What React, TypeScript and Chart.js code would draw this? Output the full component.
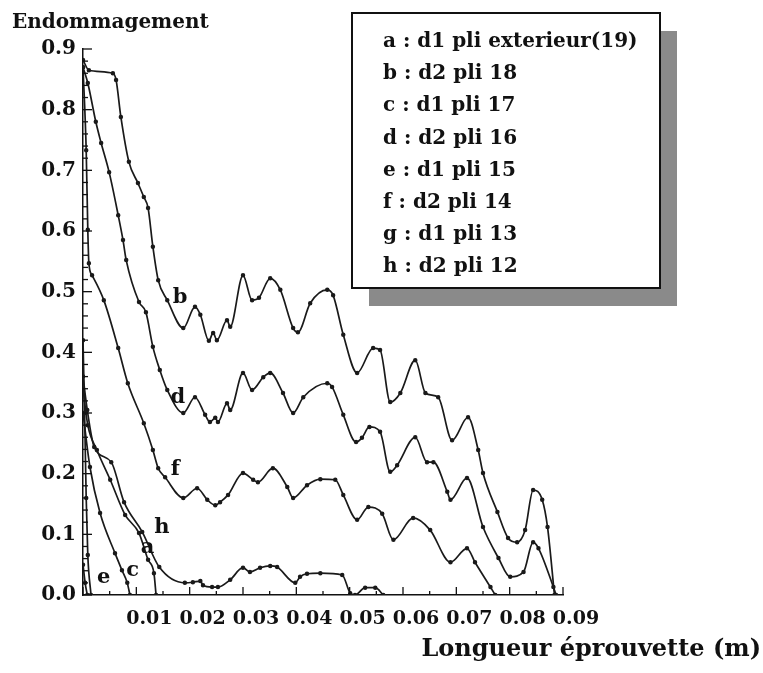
import React, { useEffect, useRef } from "react";
import { Chart, registerables } from "chart.js";

Chart.register(...registerables);

// ---- Data (x in metres, y = damage) ----
const curveA: [number, number][] = [
  [0, 0.34], [0.0009, 0.28], [0.0026, 0.239], [0.0051, 0.19], [0.0079, 0.132],
  [0.0105, 0.102], [0.0122, 0.058], [0.0133, 0.036], [0.0137, 0],
];
const curveB: [number, number][] = [
  [0, 0.882], [0.0011, 0.865], [0.0056, 0.86], [0.0062, 0.849], [0.0071, 0.788],
  [0.0086, 0.714], [0.0103, 0.679], [0.0114, 0.656], [0.0122, 0.638], [0.0131, 0.574],
  [0.0141, 0.519], [0.0158, 0.486], [0.0188, 0.44], [0.021, 0.475], [0.022, 0.462],
  [0.0236, 0.419], [0.0244, 0.432], [0.0251, 0.42], [0.027, 0.453], [0.0276, 0.442],
  [0.03, 0.527], [0.0317, 0.486], [0.033, 0.49], [0.0351, 0.522], [0.037, 0.503],
  [0.0394, 0.44], [0.0403, 0.433], [0.0426, 0.481], [0.0458, 0.503], [0.0469, 0.494],
  [0.0488, 0.429], [0.0514, 0.366], [0.0544, 0.407], [0.0557, 0.404], [0.0576, 0.318],
  [0.0595, 0.333], [0.0623, 0.387], [0.0642, 0.333], [0.0666, 0.326], [0.0692, 0.255],
  [0.0722, 0.293], [0.0741, 0.239], [0.075, 0.201], [0.0777, 0.137], [0.0797, 0.094],
  [0.0814, 0.087], [0.0829, 0.107], [0.0844, 0.173], [0.0861, 0.157], [0.0871, 0.112],
  [0.0884, 0],
];
const curveC: [number, number][] = [
  [0, 0.3], [0.0013, 0.211], [0.0032, 0.135], [0.006, 0.069], [0.0073, 0.041],
  [0.0083, 0.02], [0.0088, 0],
];
const curveD: [number, number][] = [
  [0, 0.87], [0.0009, 0.844], [0.0024, 0.78], [0.0034, 0.745], [0.0049, 0.697],
  [0.0066, 0.626], [0.0075, 0.585], [0.0081, 0.552], [0.0105, 0.483], [0.0118, 0.466],
  [0.0131, 0.409], [0.0144, 0.371], [0.0158, 0.338], [0.0188, 0.3], [0.021, 0.326],
  [0.0229, 0.297], [0.0238, 0.285], [0.0248, 0.292], [0.0253, 0.285], [0.027, 0.316],
  [0.0276, 0.305], [0.03, 0.366], [0.0317, 0.338], [0.0338, 0.359], [0.0351, 0.366],
  [0.0375, 0.333], [0.0394, 0.3], [0.0413, 0.326], [0.0458, 0.349], [0.0467, 0.343],
  [0.0488, 0.297], [0.0512, 0.252], [0.0523, 0.259], [0.0537, 0.277], [0.0557, 0.269],
  [0.0576, 0.203], [0.0589, 0.214], [0.0623, 0.26], [0.0645, 0.219], [0.0657, 0.219],
  [0.0683, 0.17], [0.0689, 0.157], [0.072, 0.193], [0.075, 0.112], [0.0779, 0.061],
  [0.0801, 0.03], [0.0826, 0.038], [0.0844, 0.087], [0.0854, 0.077], [0.0882, 0.013],
  [0.0887, 0],
];
const curveE: [number, number][] = [
  [0, 0.42], [0.0003, 0.3], [0.0006, 0.16], [0.0009, 0.066], [0.0015, 0],
];
const curveF: [number, number][] = [
  [0, 0.87], [0.0006, 0.733], [0.0009, 0.602], [0.0011, 0.547], [0.0017, 0.527],
  [0.0039, 0.486], [0.0066, 0.407], [0.0084, 0.349], [0.0114, 0.283], [0.0131, 0.239],
  [0.0141, 0.209], [0.0154, 0.194], [0.0188, 0.16], [0.0214, 0.176], [0.0233, 0.157],
  [0.0248, 0.148], [0.0257, 0.153], [0.0272, 0.165], [0.03, 0.201], [0.0319, 0.19],
  [0.0328, 0.186], [0.0356, 0.209], [0.0383, 0.178], [0.0394, 0.16], [0.042, 0.181],
  [0.0445, 0.191], [0.0473, 0.19], [0.0488, 0.165], [0.0514, 0.124], [0.0535, 0.145],
  [0.0561, 0.134], [0.0582, 0.091], [0.0619, 0.127], [0.0651, 0.107], [0.0689, 0.054],
  [0.072, 0.077], [0.0735, 0.054], [0.0764, 0.013], [0.0773, 0],
];
const curveG: [number, number][] = [
  [0, 0.05], [0.0004, 0.02], [0.0008, 0],
];
const curveH: [number, number][] = [
  [0, 0.36], [0.0008, 0.305], [0.0021, 0.244], [0.0053, 0.219], [0.0077, 0.153],
  [0.0111, 0.104], [0.0143, 0.046], [0.0191, 0.02], [0.0206, 0.021], [0.022, 0.023],
  [0.0225, 0.016], [0.0242, 0.013], [0.0253, 0.013], [0.0276, 0.025], [0.03, 0.045],
  [0.0313, 0.038], [0.0332, 0.045], [0.0351, 0.048], [0.0364, 0.046], [0.0398, 0.02],
  [0.0407, 0.03], [0.042, 0.035], [0.0445, 0.036], [0.0486, 0.033], [0.0501, 0.003],
  [0.051, 0], [0.0529, 0.012], [0.0548, 0.012], [0.0563, 0],
];

const seriesLabels = [
  "a : d1 pli exterieur(19)",
  "b : d2 pli 18",
  "c : d1 pli 17",
  "d : d2 pli 16",
  "e : d1 pli 15",
  "f : d2 pli 14",
  "g : d1 pli 13",
  "h : d2 pli 12",
];
const seriesData = [curveA, curveB, curveC, curveD, curveE, curveF, curveG, curveH];

// in-plot curve letters (data coordinates)
const tagLetters = ["b", "d", "f", "h", "a", "c", "e"];
const tagX = [0.0182, 0.0178, 0.0173, 0.0148, 0.0121, 0.0093, 0.0039];
const tagY = [0.491, 0.326, 0.206, 0.112, 0.079, 0.041, 0.028];

const xTickStep = 0.01;
const yTickStep = 0.1;
const yTitle = "Endommagement";
const xTitle = "Longueur éprouvette (m)";

const FONT = '"DejaVu Serif", "Liberation Serif", serif';

const overlayPlugin = {
  id: "overlay",
  afterDraw(chart: any) {
    const { ctx, scales } = chart;
    const x = scales.x;
    const y = scales.y;
    ctx.save();
    ctx.strokeStyle = "#111";
    ctx.lineWidth = 1.3;
    // inward ticks on y axis
    for (let i = 0; i <= 45; i++) {
      const py = y.getPixelForValue(i / 50);
      const len = i % 5 === 0 ? 9 : 5;
      ctx.beginPath();
      ctx.moveTo(x.left, py);
      ctx.lineTo(x.left + len, py);
      ctx.stroke();
    }
    // inward ticks on x axis
    for (let i = 0; i <= 18; i++) {
      const px = x.getPixelForValue(i / 200);
      const len = i % 2 === 0 ? 8 : 4;
      ctx.beginPath();
      ctx.moveTo(px, y.bottom);
      ctx.lineTo(px, y.bottom - len);
      ctx.stroke();
    }
    // curve letters
    ctx.fillStyle = "#111";
    ctx.font = `bold 21px ${FONT}`;
    ctx.textAlign = "center";
    ctx.textBaseline = "middle";
    tagLetters.forEach((t, i) => {
      ctx.fillText(t, x.getPixelForValue(tagX[i]), y.getPixelForValue(tagY[i]));
    });
    // axis titles
    ctx.font = `bold 20px ${FONT}`;
    ctx.textAlign = "left";
    ctx.fillText(yTitle, 12, 23);
    ctx.font = `bold 24px ${FONT}`;
    ctx.textAlign = "right";
    ctx.fillText(xTitle, 761, 650);
    // legend box with shadow
    const bx = 352, by = 13, bw = 308, bh = 275;
    ctx.fillStyle = "#8a8a8a";
    ctx.fillRect(bx + 17, by + 18, bw, bh);
    ctx.fillStyle = "#ffffff";
    ctx.fillRect(bx, by, bw, bh);
    ctx.lineWidth = 2;
    ctx.strokeStyle = "#111";
    ctx.strokeRect(bx, by, bw, bh);
    ctx.fillStyle = "#111";
    ctx.font = `bold 20px ${FONT}`;
    ctx.textAlign = "left";
    chart.data.datasets.forEach((ds: any, i: number) => {
      ctx.fillText(ds.label, 383, 42 + i * 32.1);
    });
    ctx.restore();
  },
};

export default function App() {
  const ref = useRef<HTMLCanvasElement | null>(null);
  useEffect(() => {
    if (!ref.current) return;
    const chart = new Chart(ref.current, {
      type: "scatter",
      data: {
        datasets: seriesData.map((arr, i) => ({
          label: seriesLabels[i],
          data: arr.map(([xv, yv]) => ({ x: xv, y: yv })),
          showLine: true,
          borderColor: "#1a1a1a",
          backgroundColor: "#1a1a1a",
          borderWidth: 1.7,
          pointRadius: 1.4,
          pointHoverRadius: 1.4,
          cubicInterpolationMode: "monotone" as const,
        })),
      },
      options: {
        animation: false,
        responsive: false,
        maintainAspectRatio: false,
        layout: { padding: { left: 0, top: 49, right: 200, bottom: 0 } },
        plugins: { legend: { display: false }, tooltip: { enabled: false } },
        scales: {
          x: {
            type: "linear",
            min: 0,
            max: 0.09,
            grid: { display: false, drawTicks: false },
            border: { display: true, color: "#111", width: 1.5 },
            ticks: {
              stepSize: xTickStep,
              padding: 13,
              labelOffset: 13,
              maxRotation: 0,
              autoSkip: false,
              color: "#111",
              font: { family: FONT, size: 19, weight: "bold" },
              callback: (v: any) => (Math.abs(v) < 1e-9 ? "" : Number(v).toFixed(2)),
            },
            afterFit: (s: any) => {
              s.height = 78;
            },
          },
          y: {
            type: "linear",
            min: 0,
            max: 0.9,
            grid: { display: false, drawTicks: false },
            border: { display: true, color: "#111", width: 1.5 },
            ticks: {
              stepSize: yTickStep,
              padding: 7,
              color: "#111",
              font: { family: FONT, size: 20, weight: "bold" },
              callback: (v: any) => Number(v).toFixed(1),
            },
            afterFit: (s: any) => {
              s.width = 83;
            },
          },
        },
      },
      plugins: [overlayPlugin],
    });
    return () => chart.destroy();
  }, []);
  return (
    <div style={{ position: "absolute", left: 0, top: 0, width: 763, height: 673, background: "#fff" }}>
      <canvas ref={ref} width={763} height={673} />
    </div>
  );
}
